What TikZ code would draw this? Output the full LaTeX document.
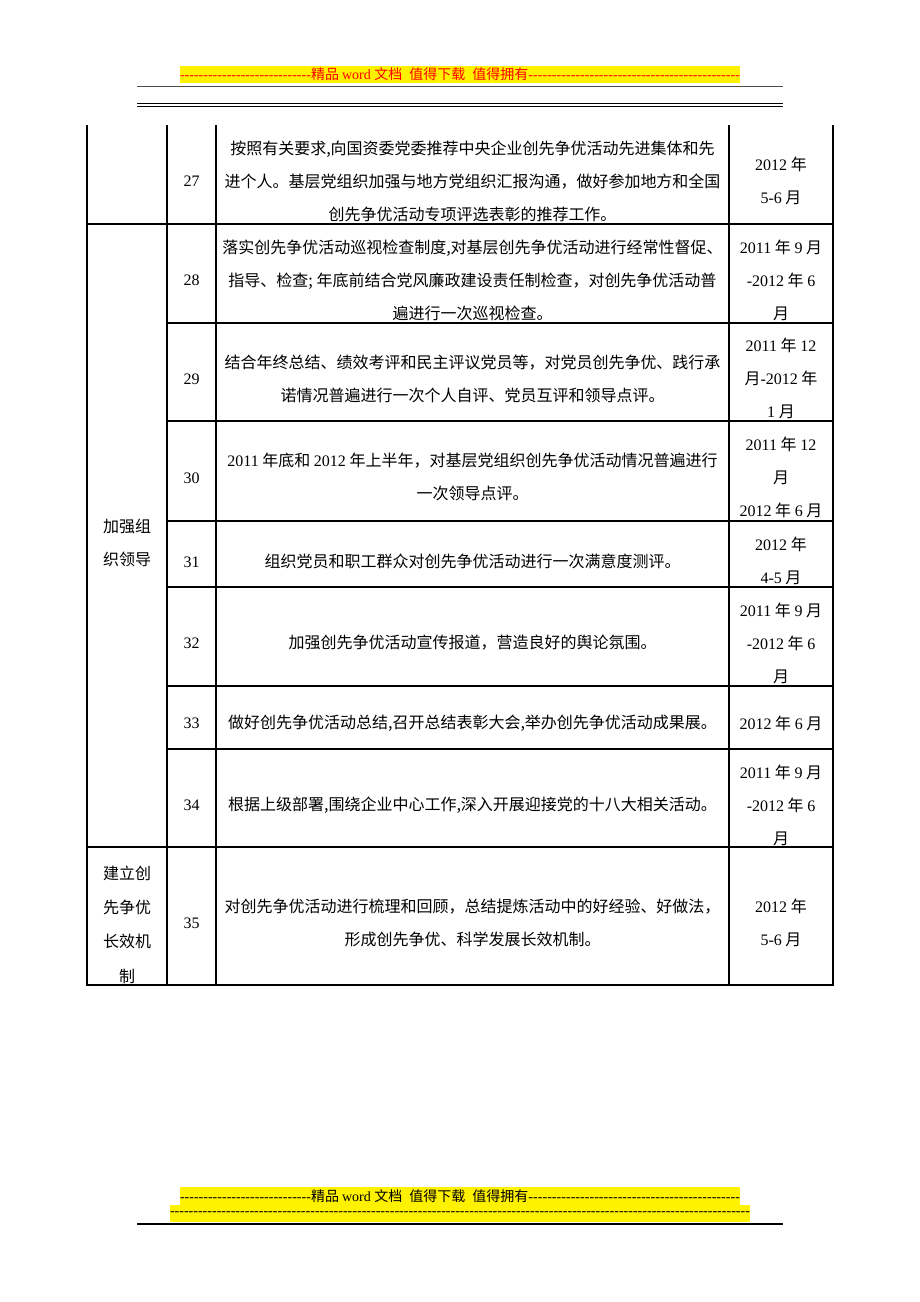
\documentclass[tikz,border=0pt]{standalone}
\usepackage{fontspec}
\setmainfont{Liberation Serif}
\newfontfamily\cjk{Noto Sans CJK SC}
\newfontfamily\lat{Liberation Serif}
\newcommand\dashrun[1]{\xleaders\hbox{-}\hskip #1\relax}
\newcommand\dashrest{\xleaders\hbox{-}\hfill}
\begin{document}
\begin{tikzpicture}[x=1pt,y=1pt]
	\tikzstyle{every node}+=[inner sep=0pt]
	\tikzstyle{grid}=[black,line width=1.3pt]
	\tikzstyle{txt}=[align=center,font=\cjk\fontsize{16}{33}\selectfont]
	\tikzstyle{num}=[font=\lat\fontsize{16}{33}\selectfont]
	\tikzstyle{banner}=[fill=yellow,font=\fontsize{14}{16}\selectfont,minimum height=17.5pt]
	\useasboundingbox (0,0) rectangle (920,-1302);
	\draw (460,-74.5) node [banner,text=red] (head) {\hbox to 560pt{\dashrun{131pt}\cjk 精品 \lat word \cjk 文档\hspace{7pt}值得下载\hspace{7pt}值得拥有\lat\dashrest}};
	\draw [gray!60!black,line width=1pt] (137,-86) -- (783,-86);
	\draw [black,line width=1.2pt] (137,-103.5) -- (783,-103.5);
	\draw [black,line width=1.2pt] (137,-106.8) -- (783,-106.8);
	\draw [grid] (87,-125) -- (87,-985) -- (833,-985) -- (833,-125);
	\draw [grid] (167,-125) -- (167,-985);
	\draw [grid] (216,-125) -- (216,-985);
	\draw [grid] (729,-125) -- (729,-985);
	\draw [grid] (87,-224) -- (833,-224);
	\draw [grid] (167,-323) -- (833,-323);
	\draw [grid] (167,-421) -- (833,-421);
	\draw [grid] (167,-521) -- (833,-521);
	\draw [grid] (167,-587) -- (833,-587);
	\draw [grid] (167,-686) -- (833,-686);
	\draw [grid] (167,-749) -- (833,-749);
	\draw [grid] (87,-847) -- (833,-847);
	\draw (127,-543) node [txt] (g2) {加强组\\织领导};
	\draw (127,-924.5) node [txt,font=\cjk\fontsize{16}{34.3}\selectfont] (g3) {建立创\\先争优\\长效机\\制};
	\draw (191.5,-181) node [num] (n27) {27};
	\draw (472.5,-181.5) node [txt] (d27) {按照有关要求,向国资委党委推荐中央企业创先争优活动先进集体和先\\进个人。基层党组织加强与地方党组织汇报沟通，做好参加地方和全国\\创先争优活动专项评选表彰的推荐工作。};
	\draw (781,-180.5) node [txt] (t27) {{\lat 2012} 年\\{\lat 5-6} 月};
	\draw (191.5,-280) node [num] (n28) {28};
	\draw (472.5,-280.5) node [txt] (d28) {落实创先争优活动巡视检查制度,对基层创先争优活动进行经常性督促、\\指导、检查; 年底前结合党风廉政建设责任制检查，对创先争优活动普\\遍进行一次巡视检查。};
	\draw (781,-280) node [txt] (t28) {{\lat 2011} 年 {\lat 9} 月\\{\lat -2012} 年 {\lat 6}\\月};
	\draw (191.5,-379) node [num] (n29) {29};
	\draw (472.5,-379) node [txt] (d29) {结合年终总结、绩效考评和民主评议党员等，对党员创先争优、践行承\\诺情况普遍进行一次个人自评、党员互评和领导点评。};
	\draw (781,-378) node [txt] (t29) {{\lat 2011} 年 {\lat 12}\\月{\lat -2012} 年\\{\lat 1} 月};
	\draw (191.5,-478) node [num] (n30) {30};
	\draw (472.5,-477) node [txt] (d30) {{\lat 2011} 年底和 {\lat 2012} 年上半年，对基层党组织创先争优活动情况普遍进行\\一次领导点评。};
	\draw (781,-477) node [txt] (t30) {{\lat 2011} 年 {\lat 12}\\月\\{\lat 2012} 年 {\lat 6} 月};
	\draw (191.5,-562) node [num] (n31) {31};
	\draw (472.5,-561) node [txt] (d31) {组织党员和职工群众对创先争优活动进行一次满意度测评。};
	\draw (781,-561) node [txt] (t31) {{\lat 2012} 年\\{\lat 4-5} 月};
	\draw (191.5,-643) node [num] (n32) {32};
	\draw (472.5,-643) node [txt] (d32) {加强创先争优活动宣传报道，营造良好的舆论氛围。};
	\draw (781,-643) node [txt] (t32) {{\lat 2011} 年 {\lat 9} 月\\{\lat -2012} 年 {\lat 6}\\月};
	\draw (191.5,-723) node [num] (n33) {33};
	\draw (472.5,-723) node [txt] (d33) {做好创先争优活动总结,召开总结表彰大会,举办创先争优活动成果展。};
	\draw (781,-723) node [txt] (t33) {{\lat 2012} 年 {\lat 6} 月};
	\draw (191.5,-805) node [num] (n34) {34};
	\draw (472.5,-805) node [txt] (d34) {根据上级部署,围绕企业中心工作,深入开展迎接党的十八大相关活动。};
	\draw (781,-805) node [txt] (t34) {{\lat 2011} 年 {\lat 9} 月\\{\lat -2012} 年 {\lat 6}\\月};
	\draw (191.5,-923) node [num] (n35) {35};
	\draw (472.5,-922.5) node [txt] (d35) {对创先争优活动进行梳理和回顾，总结提炼活动中的好经验、好做法，\\形成创先争优、科学发展长效机制。};
	\draw (781,-922.5) node [txt] (t35) {{\lat 2012} 年\\{\lat 5-6} 月};
	\draw (460,-1196) node [banner] (foot) {\hbox to 560pt{\dashrun{131pt}\cjk 精品 \lat word \cjk 文档\hspace{7pt}值得下载\hspace{7pt}值得拥有\lat\dashrest}};
	\draw (460,-1213.5) node [banner] (footdash) {\hbox to 580pt{\dashrest}};
	\draw [black,line width=1.5pt] (137,-1224) -- (783,-1224);
\end{tikzpicture}
\end{document}
